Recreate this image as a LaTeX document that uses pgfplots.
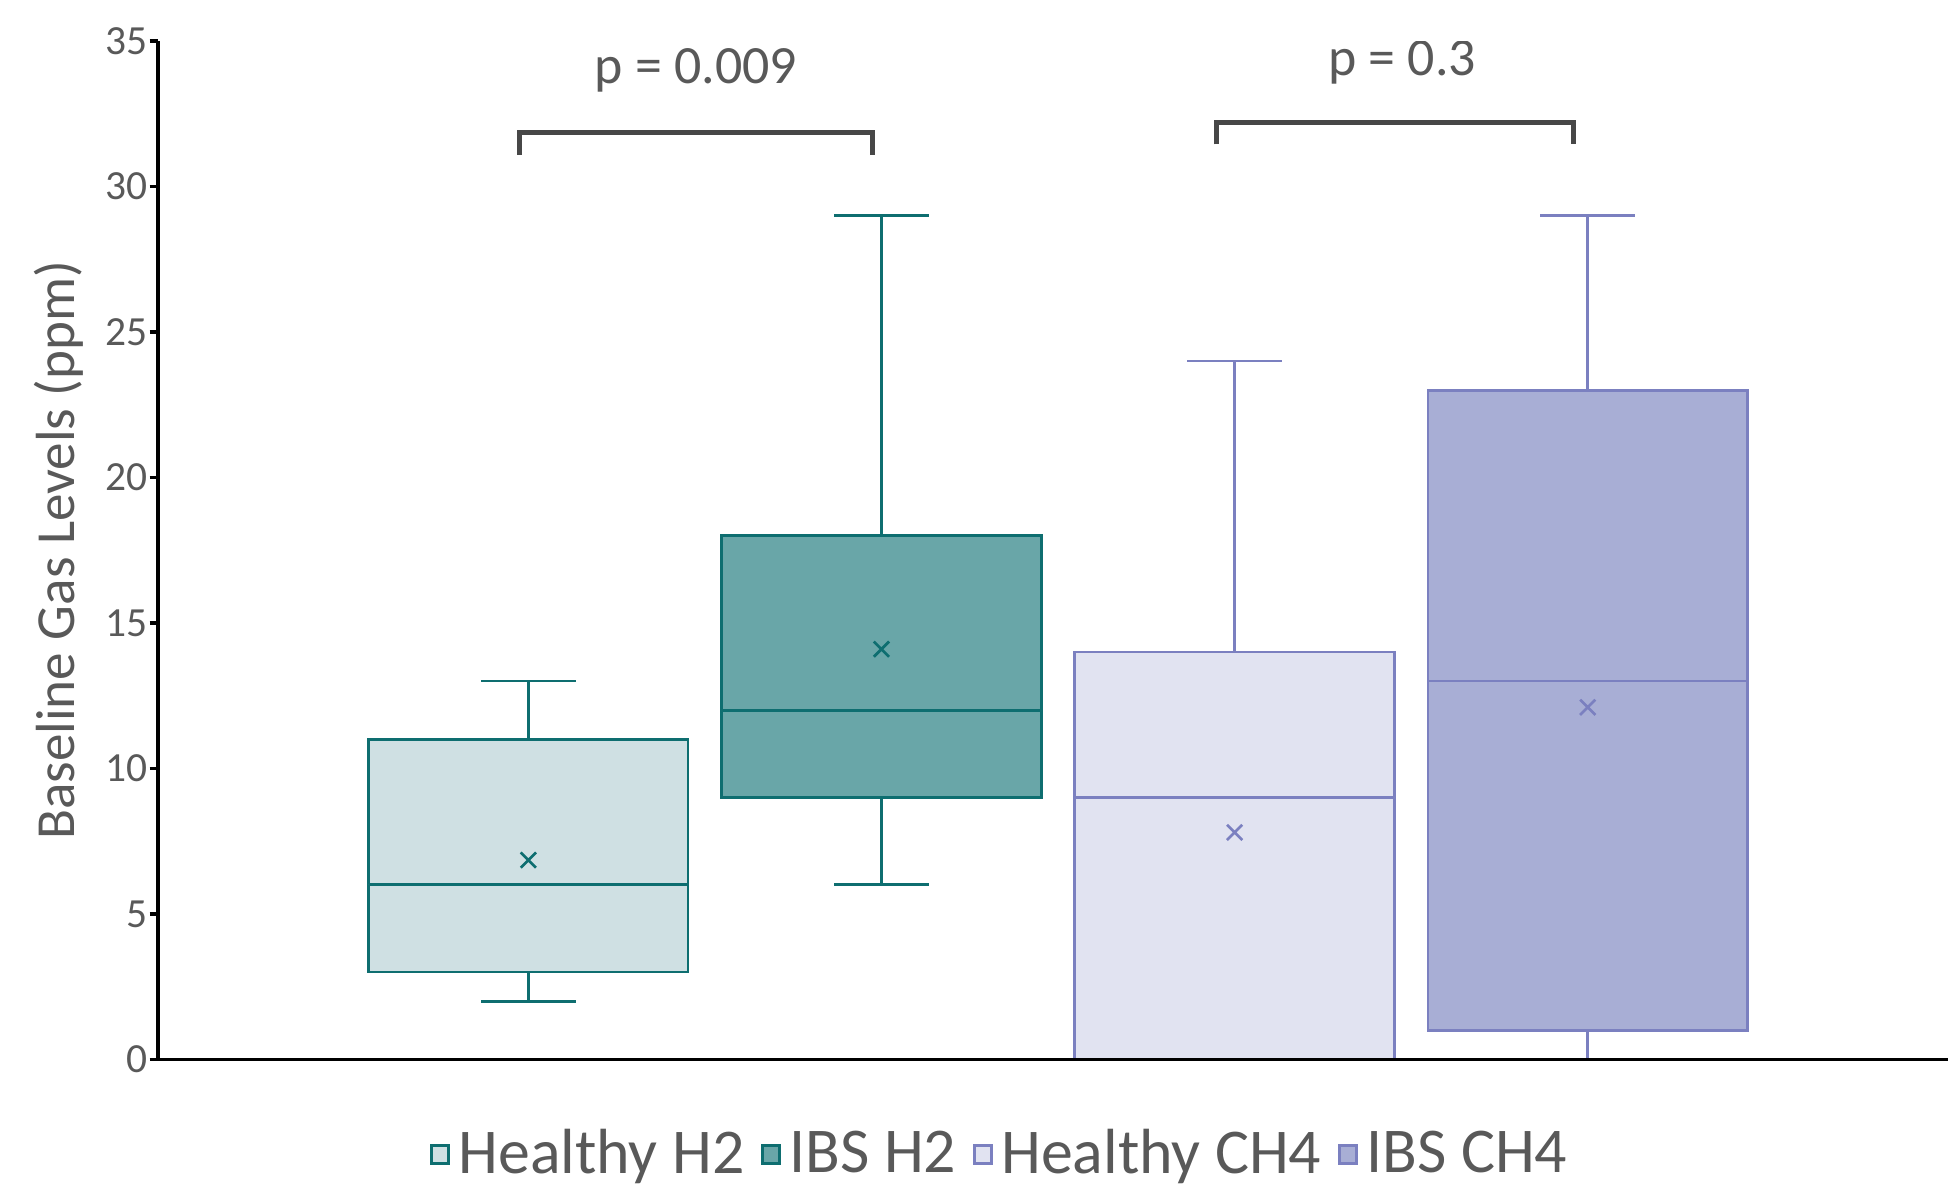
\documentclass[border=0pt]{standalone}
\usepackage{pgfplots}
\pgfplotsset{compat=1.18}
\usepgfplotslibrary{statistics}
\usepackage{fontspec}
\setmainfont{Carlito}
\definecolor{txt}{HTML}{595959}
\definecolor{brk}{HTML}{474747}
\definecolor{tealD}{HTML}{0E6E70}
\definecolor{tealL}{HTML}{CFE0E3}
\definecolor{tealM}{HTML}{69A6A8}
\definecolor{purD}{HTML}{7B80C0}
\definecolor{purL}{HTML}{E1E3F1}
\definecolor{purM}{HTML}{A8AED5}
\begin{document}
\begin{tikzpicture}
\begin{axis}[
  at={(38.1pt,30.9pt)}, anchor=south west,
  scale only axis, width=432.3pt, height=245.7pt,
  xmin=-0.049, xmax=5.025, ymin=0, ymax=35,
  axis x line=bottom, axis y line=left,
  axis line style={-, black, line width=0.8pt},
  axis on top,
  xtick=\empty,
  ytick={0,5,...,35},
  tick align=outside, major tick length=2pt,
  tick style={black, line width=0.8pt},
  /pgf/number format/assume math mode=true,
  yticklabel style={font=\fontsize{10}{12}\selectfont, text=txt, xshift=3pt},
  ylabel={Baseline Gas Levels (ppm)},
  ylabel style={at={(axis description cs:-0.0555,0.5)}, anchor=center, font=\fontsize{13.3}{15}\selectfont, text=txt},
  boxplot/draw direction=y,
  boxplot/every average/.style={/tikz/mark=x, /tikz/mark size=2.6pt, /tikz/mark options={solid, line width=1pt}},
  legend columns=-1,
  legend style={at={(axis description cs:0.4715,-0.0935)}, anchor=center, draw=none, fill=none,
    font=\fontsize{15.4}{17}\selectfont, text=txt, inner sep=0pt,
    /tikz/every even column/.append style={column sep=2pt}},
  legend image code/.code={\draw[#1, line width=0.7pt] (0pt,-2.1pt) rectangle (4.2pt,2.1pt);},
]
\addlegendimage{draw=tealD, fill=tealL}
\addlegendentry{Healthy H2}
\addlegendimage{draw=tealD, fill=tealM}
\addlegendentry{IBS H2}
\addlegendimage{draw=purD, fill=purL}
\addlegendentry{Healthy CH4}
\addlegendimage{draw=purD, fill=purM}
\addlegendentry{IBS CH4}

\addplot[forget plot, draw=tealD, fill=tealL, line width=0.65pt, mark=x,
  boxplot prepared={draw position=1, lower whisker=2, lower quartile=3, median=6,
  upper quartile=11, upper whisker=13, average=6.85, box extend=0.905, whisker extend=0.268}]
  coordinates {};
\addplot[forget plot, draw=tealD, fill=tealM, line width=0.65pt, mark=x,
  boxplot prepared={draw position=2, lower whisker=6, lower quartile=9, median=12,
  upper quartile=18, upper whisker=29, average=14.1, box extend=0.905, whisker extend=0.268}]
  coordinates {};
\addplot[forget plot, draw=purD, fill=purL, line width=0.65pt, mark=x,
  boxplot prepared={draw position=3, lower whisker=0, lower quartile=0, median=9,
  upper quartile=14, upper whisker=24, average=7.8, box extend=0.905, whisker extend=0.268}]
  coordinates {};
\addplot[forget plot, draw=purD, fill=purM, line width=0.65pt, mark=x,
  boxplot prepared={draw position=4, lower whisker=0, lower quartile=1, median=13,
  upper quartile=23, upper whisker=29, average=12.1, box extend=0.905, whisker extend=0.268}]
  coordinates {};

\addplot[forget plot, brk, line width=1.2pt, mark=none]
  coordinates {(0.975,31.1) (0.975,31.85) (1.975,31.85) (1.975,31.1)};
\addplot[forget plot, brk, line width=1.2pt, mark=none]
  coordinates {(2.95,31.45) (2.95,32.2) (3.96,32.2) (3.96,31.45)};
\node[text=txt, font=\fontsize{13}{15}\selectfont] at (axis cs:1.475,34.0) {p = 0.009};
\node[text=txt, font=\fontsize{13}{15}\selectfont] at (axis cs:3.475,34.25) {p = 0.3};
\end{axis}
\pgfresetboundingbox
\path[use as bounding box] (0,0) rectangle (470pt,286.5pt);
\end{tikzpicture}
\end{document}
